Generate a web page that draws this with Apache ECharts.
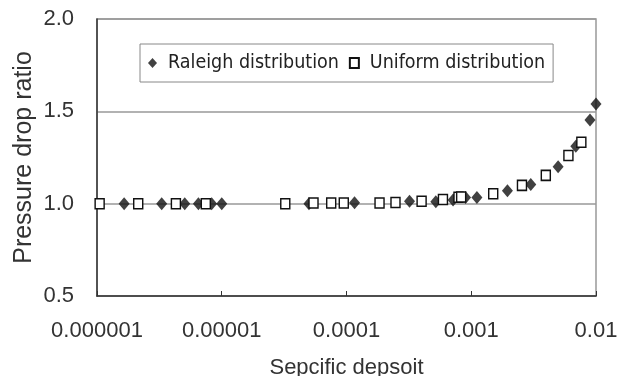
<!DOCTYPE html>
<html>
<head>
<meta charset="utf-8">
<script src="https://cdn.jsdelivr.net/npm/echarts@6/dist/echarts.min.js"></script>
<style>
  html, body { margin: 0; padding: 0; background: #fff; }
  #chart { width: 630px; height: 376px; }
</style>
</head>
<body>
<div id="chart"></div>
<script>
// x: specific deposit, y: pressure drop ratio
var raleighX = [1.65e-6, 3.3e-6, 5.05e-6, 6.5e-6, 8.3e-6, 1.0e-5, 5.0e-5, 1.16e-4, 3.2e-4, 5.2e-4, 7.15e-4, 9.0e-4, 1.11e-3, 1.95e-3, 3.0e-3, 4.97e-3, 6.89e-3, 8.95e-3, 1.0e-2];
var raleighY = [1.0, 1.0, 1.0, 1.0, 1.0, 1.0, 1.0, 1.005, 1.013, 1.01, 1.02, 1.033, 1.033, 1.07, 1.104, 1.2, 1.311, 1.453, 1.54];
var uniformX = [1.05e-6, 2.14e-6, 4.29e-6, 7.45e-6, 3.23e-5, 5.44e-5, 7.54e-5, 9.51e-5, 1.84e-4, 2.47e-4, 4.0e-4, 5.93e-4, 7.9e-4, 8.3e-4, 1.5e-3, 2.55e-3, 3.96e-3, 6.01e-3, 7.63e-3];
var uniformY = [1.0, 1.0, 1.0, 1.0, 1.0, 1.004, 1.004, 1.004, 1.004, 1.006, 1.013, 1.023, 1.035, 1.036, 1.054, 1.099, 1.153, 1.261, 1.333];
var xTickLabels = ['0.000001', '0.00001', '0.0001', '0.001', '0.01'];
var yTickLabels = ['0.5', '1.0', '1.5', '2.0'];

function pairs(xs, ys) {
    return xs.map(function (x, i) { return [x, ys[i]]; });
}

var chart = echarts.init(document.getElementById('chart'));
var font = 'Liberation Sans, Arial, sans-serif';

chart.setOption({
    animation: false,
    grid: {
        left: 97, right: 34, top: 19, bottom: 80,
        containLabel: false, outerBoundsMode: 'none',
        show: true, borderColor: '#999', borderWidth: 1.5
    },
    legend: {
        left: 140, top: 44,
        padding: [9, 8, 9, 8],
        itemGap: 10,
        itemWidth: 9, itemHeight: 10,
        backgroundColor: '#fff',
        borderColor: '#888', borderWidth: 1,
        textStyle: {
            fontFamily: 'DejaVu Sans Condensed, sans-serif', fontSize: 19.5, color: '#222',
            padding: [0, 0, 0, 6]
        },
        data: ['Raleigh distribution', 'Uniform distribution']
    },
    xAxis: {
        type: 'log', logBase: 10, min: 1e-6, max: 1e-2,
        name: 'Sepcific depsoit', nameLocation: 'middle', nameGap: 61,
        nameMoveOverlap: false,
        nameTextStyle: { fontFamily: font, fontSize: 22, color: '#333' },
        axisLine: { lineStyle: { color: '#333', width: 1.5 } },
        axisTick: { inside: true, length: 5, lineStyle: { color: '#333' } },
        minorTick: { show: false },
        splitLine: { show: false },
        axisLabel: {
            margin: 24, fontFamily: font, fontSize: 22, color: '#333',
            formatter: function (v) { return xTickLabels[Math.round(Math.log10(v)) + 6]; }
        }
    },
    yAxis: {
        type: 'value', min: 0.5, max: 2.0, interval: 0.5,
        name: 'Pressure drop ratio', nameLocation: 'middle', nameGap: 60,
        nameMoveOverlap: false,
        nameTextStyle: { fontFamily: font, fontSize: 25, color: '#333' },
        axisLine: { show: true, lineStyle: { color: '#333', width: 1.5 } },
        axisTick: { show: false },
        splitLine: { lineStyle: { color: '#999', width: 1.5 } },
        axisLabel: {
            margin: 23, fontFamily: font, fontSize: 22, color: '#333',
            formatter: function (v) { return yTickLabels[Math.round((v - 0.5) / 0.5)]; }
        }
    },
    series: [
        {
            name: 'Raleigh distribution', type: 'scatter',
            symbol: 'diamond', symbolSize: [11, 13],
            itemStyle: { color: '#111' },
            data: pairs(raleighX, raleighY)
        },
        {
            name: 'Uniform distribution', type: 'scatter',
            symbol: 'rect', symbolSize: [9, 10],
            itemStyle: { color: '#fff', borderColor: '#111', borderWidth: 1.5, opacity: 1 },
            data: pairs(uniformX, uniformY)
        }
    ]
});
</script>
</body>
</html>
